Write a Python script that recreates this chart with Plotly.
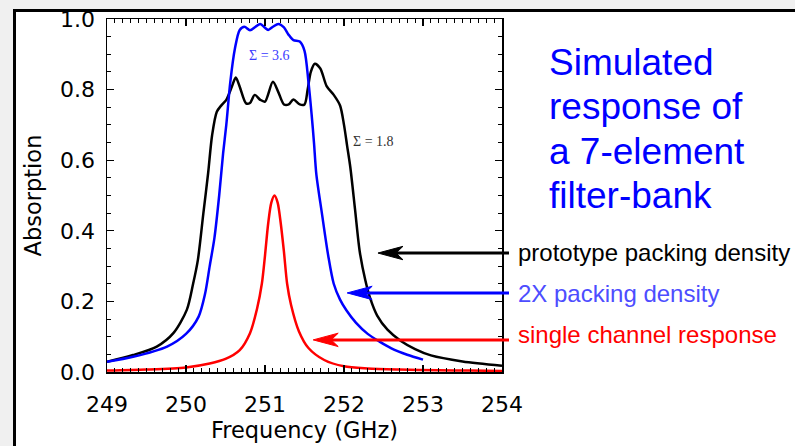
import plotly.graph_objects as go

# ---------------- data ----------------
freq_proto = [249.0, 249.33, 249.63, 249.84, 250.01, 250.09, 250.15, 250.22, 250.28, 250.33,
              250.39, 250.45, 250.51, 250.58, 250.63, 250.68, 250.76, 250.81, 250.87, 250.94,
              251.0, 251.1, 251.17, 251.24, 251.3, 251.36, 251.44, 251.5, 251.54, 251.58,
              251.63, 251.7, 251.78, 251.87, 251.95, 252.0, 252.04, 252.08, 252.14, 252.2,
              252.27, 252.33, 252.42, 252.55, 252.72, 252.9, 253.1, 253.5, 254.0]
abs_proto = [0.029, 0.048, 0.072, 0.11, 0.176, 0.25, 0.317, 0.45, 0.563, 0.67,
             0.737, 0.756, 0.771, 0.808, 0.834, 0.808, 0.761, 0.762, 0.785, 0.771,
             0.766, 0.822, 0.792, 0.758, 0.758, 0.772, 0.758, 0.758, 0.8, 0.85,
             0.873, 0.86, 0.81, 0.785, 0.755, 0.70, 0.64, 0.58, 0.46, 0.34,
             0.26, 0.21, 0.16, 0.12, 0.088, 0.065, 0.047, 0.03, 0.018]

freq_2x = [249.0, 249.33, 249.76, 250.0, 250.16, 250.24, 250.3, 250.36, 250.42, 250.47,
           250.51, 250.56, 250.62, 250.68, 250.74, 250.81, 250.88, 250.94, 251.0, 251.04,
           251.1, 251.17, 251.24, 251.3, 251.36, 251.44, 251.5, 251.55, 251.59, 251.62,
           251.65, 251.72, 251.8, 251.87, 251.95, 252.03, 252.15, 252.3, 252.45, 252.6,
           252.8, 253.0]
abs_2x = [0.029, 0.043, 0.072, 0.108, 0.157, 0.22, 0.30, 0.38, 0.50, 0.62,
          0.70, 0.82, 0.917, 0.969, 0.978, 0.968, 0.978, 0.986, 0.975, 0.969,
          0.978, 0.986, 0.976, 0.955, 0.94, 0.936, 0.91, 0.822, 0.73, 0.65,
          0.56, 0.45, 0.33, 0.25, 0.205, 0.175, 0.14, 0.108, 0.086, 0.067,
          0.049, 0.035]

freq_single = [249.0, 249.5, 250.0, 250.3, 250.5, 250.68, 250.81, 250.9, 250.96, 251.0,
               251.04, 251.08, 251.12, 251.16, 251.2, 251.24, 251.28, 251.33, 251.43, 251.55,
               251.75, 252.0, 252.3, 252.7, 253.2, 253.6, 254.0]
abs_single = [0.004, 0.007, 0.013, 0.024, 0.037, 0.062, 0.11, 0.18, 0.25, 0.33,
              0.42, 0.48, 0.50, 0.48, 0.42, 0.34, 0.25, 0.19, 0.115, 0.068,
              0.034, 0.016, 0.01, 0.007, 0.005, 0.004, 0.003]

x_ticks = [249, 250, 251, 252, 253, 254]
y_ticks = [0.0, 0.2, 0.4, 0.6, 0.8, 1.0]

title_lines = ["Simulated", "response of", "a 7-element", "filter-bank"]
legend_labels = ["prototype packing density", "2X packing density", "single channel response"]
legend_colors = ["#000000", "#4d4dff", "#ff0000"]
arrow_colors = ["#000000", "#0000ff", "#ff0000"]
# arrow tips (frequency GHz, absorption)
arrow_tip_f = [252.43, 252.04, 251.61]
arrow_tip_v = [0.337, 0.224, 0.091]
sigma_labels = ["\u03a3 = 3.6", "\u03a3 = 1.8"]
sigma_f = [251.06, 252.37]
sigma_v = [0.898, 0.652]
sigma_colors = ["#3a3aff", "#333333"]

# ---------------- layout geometry ----------------
W, H = 795, 446
L, R, T, B = 107, 502, 19, 372
XR = [249, 254]
YR = [0.0, 1.0]


def px2paper_x(px):
    return (px - L) / (R - L)


def py2paper_y(py):
    return (B - py) / (B - T)


def f2paper(f):
    return (f - XR[0]) / (XR[1] - XR[0])


def v2paper(v):
    return (v - YR[0]) / (YR[1] - YR[0])


fig = go.Figure()
fig.add_trace(go.Scatter(x=freq_proto, y=abs_proto, mode="lines", hoverinfo="skip",
                         line=dict(color="#000000", width=2.5, shape="spline", smoothing=0.8)))
fig.add_trace(go.Scatter(x=freq_2x, y=abs_2x, mode="lines", hoverinfo="skip",
                         line=dict(color="#0000ff", width=2.5, shape="spline", smoothing=0.8)))
fig.add_trace(go.Scatter(x=freq_single, y=abs_single, mode="lines", hoverinfo="skip",
                         line=dict(color="#ff0000", width=2.5, shape="spline", smoothing=0.8)))

shapes = []
# white panel with black frame (top & left visible)
shapes.append(dict(type="rect", xref="paper", yref="paper", layer="below",
                   x0=px2paper_x(14.5), x1=px2paper_x(W + 20),
                   y0=py2paper_y(H + 20), y1=py2paper_y(10.5),
                   fillcolor="white", line=dict(color="black", width=3)))

annotations = []
# arrows
tail_px = 509
for f, v, c in zip(arrow_tip_f, arrow_tip_v, arrow_colors):
    tip_x = f2paper(f)
    tip_y = v2paper(v)
    tip_px = L + tip_x * (R - L)
    shapes.append(dict(type="line", xref="paper", yref="paper",
                       x0=px2paper_x(tip_px + 17), x1=px2paper_x(tail_px),
                       y0=tip_y, y1=tip_y, line=dict(color=c, width=3)))
    shapes.append(dict(type="path", xref="paper", yref="paper",
                       xsizemode="pixel", ysizemode="pixel",
                       xanchor=tip_x, yanchor=tip_y,
                       path="M0,0 L25,6.7 L18,0 L25,-6.7 Z",
                       fillcolor=c, line=dict(color=c, width=1)))

# legend texts
legend_centers = [252, 293, 334]
for txt, col, cy in zip(legend_labels, legend_colors, legend_centers):
    annotations.append(dict(text=txt, xref="paper", yref="paper",
                            x=px2paper_x(516), y=py2paper_y(cy),
                            xanchor="left", yanchor="middle", showarrow=False,
                            font=dict(family="Liberation Sans, Arial, sans-serif", size=24, color=col)))

# blue title text
title_centers = [63, 106.5, 151.5, 195.5]
for txt, cy in zip(title_lines, title_centers):
    annotations.append(dict(text=txt, xref="paper", yref="paper",
                            x=px2paper_x(547), y=py2paper_y(cy),
                            xanchor="left", yanchor="middle", showarrow=False,
                            font=dict(family="Liberation Sans, Arial, sans-serif", size=37, color="#0000ff")))

# sigma labels
for txt, f, v, c in zip(sigma_labels, sigma_f, sigma_v, sigma_colors):
    annotations.append(dict(text=txt, xref="x", yref="y", x=f, y=v,
                            xanchor="center", yanchor="middle", showarrow=False,
                            font=dict(family="Liberation Serif, DejaVu Serif, serif", size=14, color=c)))

axis_font = dict(family="DejaVu Sans, sans-serif", size=22, color="black")
title_font = dict(family="DejaVu Sans, sans-serif", size=22.5, color="black")

fig.update_layout(
    template="none",
    width=W, height=H,
    margin=dict(l=L, r=W - R, t=T, b=H - B, autoexpand=False),
    paper_bgcolor="#f0f0f0",
    plot_bgcolor="white",
    showlegend=False,
    hovermode=False,
    shapes=shapes,
    annotations=annotations,
    xaxis=dict(range=XR, tickvals=x_ticks, ticktext=[str(t) for t in x_ticks],
               showgrid=False, zeroline=False, automargin=False, fixedrange=True,
               showline=True, linecolor="black", linewidth=1.5, mirror="allticks",
               ticks="inside", ticklen=7, tickwidth=1.2, tickcolor="black",
               minor=dict(dtick=0.1, ticks="inside", ticklen=4, tickwidth=1, tickcolor="black", showgrid=False),
               tickfont=axis_font, ticklabelstandoff=12,
               title=dict(text="Frequency (GHz)", font=title_font, standoff=5)),
    yaxis=dict(range=YR, tickvals=y_ticks, ticktext=["%.1f" % t for t in y_ticks],
               showgrid=False, zeroline=False, automargin=False, fixedrange=True,
               showline=True, linecolor="black", linewidth=1.5, mirror="allticks",
               ticks="inside", ticklen=7, tickwidth=1.2, tickcolor="black",
               minor=dict(dtick=0.05, ticks="inside", ticklen=4, tickwidth=1, tickcolor="black", showgrid=False),
               tickfont=axis_font, ticklabelstandoff=6,
               title=dict(text="Absorption", font=title_font, standoff=12)),
)

fig.write_html(
    "out.html",
    config={"displayModeBar": False, "staticPlot": True},
    post_script="document.body.style.margin='0';document.body.style.padding='0';"
                "document.body.style.overflow='hidden';document.body.style.background='#f0f0f0';",
)
